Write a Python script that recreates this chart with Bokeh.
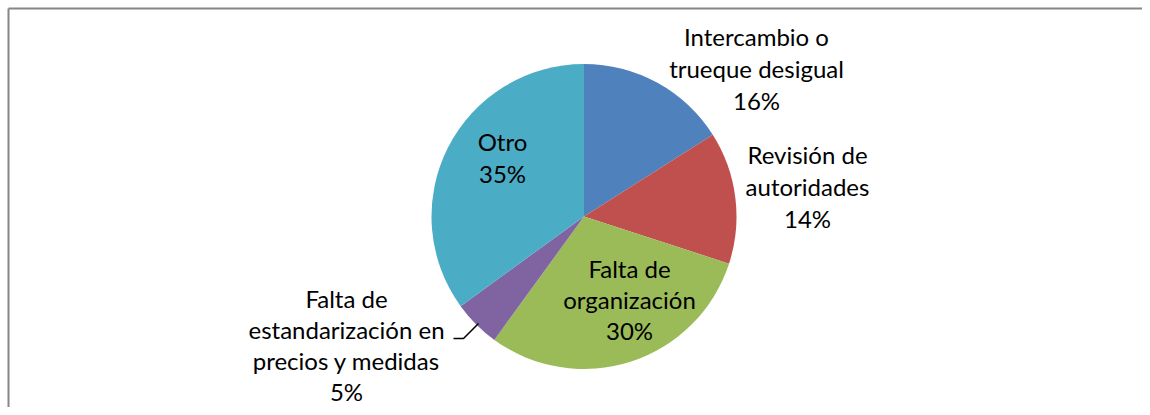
import numpy as np
from bokeh.plotting import figure
from bokeh.models import ColumnDataSource
from bokeh.core.properties import value
from bokeh.embed import file_html
from bokeh.resources import INLINE

categories = ["Intercambio o trueque desigual", "Revisión de autoridades",
              "Falta de organización", "Falta de estandarización en precios y medidas", "Otro"]
values = [16, 14, 30, 5, 35]
colors = ["#4F81BD", "#C0504D", "#9BBB59", "#8064A2", "#4BACC6"]
label_lines = [
    ["Intercambio o", "trueque desigual", "16%"],
    ["Revisión de", "autoridades", "14%"],
    ["Falta de", "organización", "30%"],
    ["Falta de", "estandarización en", "precios y medidas", "5%"],
    ["Otro", "35%"],
]

W, H = 1142, 407
FONT = "Lato"
FS = "24px"

def px(x, y):
    # convert screenshot pixel position to data coords
    return x, H - y

p = figure(width=W, height=H, output_backend="svg", toolbar_location=None,
           x_range=(0, W), y_range=(0, H), min_border=0)
p.axis.visible = False
p.grid.visible = False
p.outline_line_color = None
p.background_fill_color = "white"

cx, cy = px(583.5, 216)
R = 152.5

total = sum(values)
fracs = np.array(values) / total
ends = np.pi / 2 - 2 * np.pi * np.cumsum(fracs)
starts = np.concatenate([[np.pi / 2], ends[:-1]])
src = ColumnDataSource(dict(start=starts, end=ends, color=colors, cat=categories))
p.wedge(x=cx, y=cy, radius=R, start_angle="start", end_angle="end", direction="clock",
        fill_color="color", line_color=None, source=src)

# (center x, first line y, line spacing)
anchors = [(756, 36, 32), (807, 154, 32), (629, 268, 31), (346, 298, 31), (502, 141, 32)]
xs, ys, ts = [], [], []
for (ax, ay, lh), lines in zip(anchors, label_lines):
    for i, t in enumerate(lines):
        x, y = px(ax, ay + i * lh)
        xs.append(x); ys.append(y); ts.append(t)
p.text(x=xs, y=ys, text=ts, text_font=value(FONT), text_font_size=FS,
       text_align="center", text_baseline="middle", text_color="black")

lx, ly = zip(*[px(453, 338), px(463, 338), px(478, 323)])
p.line(x=list(lx), y=list(ly), line_color="black", line_width=1.5)

# chart border (top & left visible)
bx0, by0 = px(8, 8)
p.line(x=[bx0, bx0], y=[0, by0], line_color="#868686", line_width=2)
p.line(x=[bx0, W], y=[by0, by0], line_color="#868686", line_width=2)

open("out.html", "w").write(file_html(p, INLINE))
